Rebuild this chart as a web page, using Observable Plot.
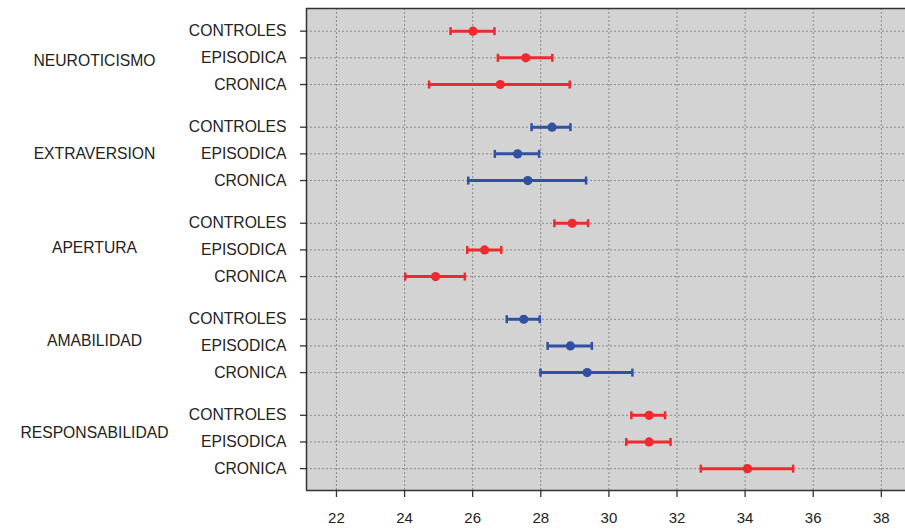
<!DOCTYPE html>
<html>
<head>
<meta charset="utf-8">
<script src="https://cdn.jsdelivr.net/npm/d3@7"></script>
<script src="https://cdn.jsdelivr.net/npm/@observablehq/plot@0.6"></script>
<style>
  html, body { margin: 0; padding: 0; background: #fff; }
  #chart svg { display: block; }
</style>
</head>
<body>
<div id="chart"></div>
<script>
// ---- data ----
const groups = ["NEUROTICISMO", "EXTRAVERSION", "APERTURA", "AMABILIDAD", "RESPONSABILIDAD"];
const subgroups = ["CONTROLES", "EPISODICA", "CRONICA"];
const groupColors = ["#ef2a2e", "#3150a2", "#ef2a2e", "#3150a2", "#ef2a2e"];
// means / lower / upper limits, 3 per group in subgroup order
const means = [26.01, 27.56, 26.81, 28.33, 27.32, 27.62, 28.92, 26.35, 24.91, 27.50, 28.87, 29.36, 31.18, 31.18, 34.07];
const lows  = [25.35, 26.74, 24.72, 27.73, 26.65, 25.87, 28.40, 25.84, 24.02, 27.00, 28.20, 27.99, 30.66, 30.51, 32.70];
const highs = [26.64, 28.34, 28.85, 28.87, 27.95, 29.33, 29.39, 26.84, 25.77, 27.97, 29.50, 30.69, 31.65, 31.81, 35.41];
const xTicks = [22, 24, 26, 28, 30, 32, 34, 36, 38];
const groupLabelPos = [1.10, 4.62, 8.11, 11.62, 15.08];

// ---- table ----
const groupStep = 3.6;
const rows = [];
groups.forEach((g, gi) => {
  subgroups.forEach((s, si) => {
    const i = gi * 3 + si;
    rows.push({group: g, sub: s, pos: gi * groupStep + si, mean: means[i], lo: lows[i], hi: highs[i], color: groupColors[gi]});
  });
});
const rowPos = rows.map(d => d.pos);
const rowLabel = new Map(rows.map(d => [d.pos, d.sub]));
const groupLabels = groups.map((g, i) => ({label: g, pos: groupLabelPos[i]}));

const xDomain = [21.12, 38.71];
const yDomain = [-0.85, 17.22];

const capSymbol = {
  draw(context) {
    context.moveTo(0, -4);
    context.lineTo(0, 4);
  }
};

const font = "'Liberation Sans', Arial, Helvetica, sans-serif";

const chart = Plot.plot({
  width: 905,
  height: 529,
  marginLeft: 306,
  marginRight: 0,
  marginTop: 8,
  marginBottom: 39,
  style: {fontFamily: font, fontSize: "15px", color: "#222", background: "#fff"},
  x: {domain: xDomain, ticks: xTicks, label: null},
  y: {domain: yDomain, reverse: true, label: null},
  marks: [
    Plot.frame({fill: "#d3d3d3", stroke: null}),
    Plot.gridX(xTicks, {stroke: "#8a8a8a", strokeOpacity: 1, strokeDasharray: "2,2", strokeWidth: 1}),
    Plot.gridY(rowPos, {stroke: "#8a8a8a", strokeOpacity: 1, strokeDasharray: "2,2", strokeWidth: 1}),
    Plot.ruleX([xDomain[0]], {stroke: "#333", strokeWidth: 1.5}),
    Plot.ruleY([yDomain[0], yDomain[1]], {stroke: "#333", strokeWidth: 1.5}),
    Plot.axisX({ticks: xTicks, tickSize: 7, tickPadding: 15, stroke: "#333", strokeWidth: 1.3, fontSize: 15, label: null}),
    Plot.axisY({ticks: rowPos, tickFormat: d => rowLabel.get(d), tickSize: 6, tickPadding: 14, stroke: "#333", strokeWidth: 1.3, fontSize: 15.7, label: null}),
    Plot.text(groupLabels, {frameAnchor: "left", y: "pos", text: "label", dx: -212, textAnchor: "middle", fontSize: 15.7, fill: "#222"}),
    Plot.ruleY(rows, {x1: "lo", x2: "hi", y: "pos", stroke: "color", strokeWidth: 3}),
    Plot.dot(rows, {x: "lo", y: "pos", symbol: capSymbol, stroke: "color", strokeWidth: 2.5, fill: "none"}),
    Plot.dot(rows, {x: "hi", y: "pos", symbol: capSymbol, stroke: "color", strokeWidth: 2.5, fill: "none"}),
    Plot.dot(rows, {x: "mean", y: "pos", r: 4.6, fill: "color", stroke: null})
  ]
});
document.getElementById("chart").appendChild(chart);
</script>
</body>
</html>
